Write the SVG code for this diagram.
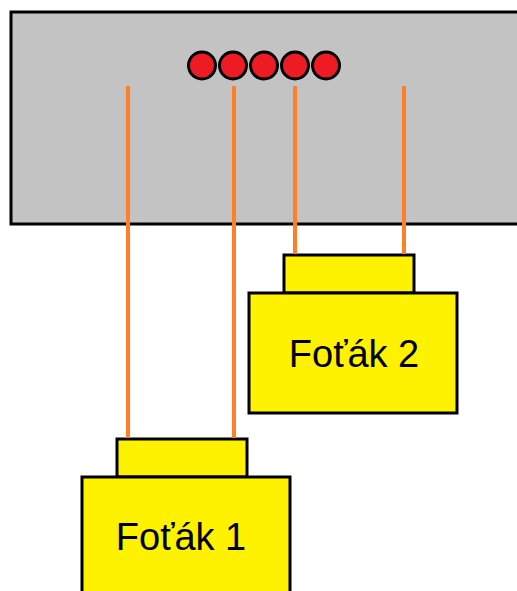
<svg xmlns="http://www.w3.org/2000/svg" width="517" height="591" viewBox="0 0 517 591">
<style>
.box{fill:#c3c3c3;stroke:#000;stroke-width:3}
.led{fill:#ed1c24;stroke:#000;stroke-width:3}
.cam{fill:#fff200;stroke:#000;stroke-width:3}
.wire{stroke:#ff7f27;stroke-width:4;fill:none}
.lbl{font-family:"Liberation Sans",Arial,sans-serif;font-size:38px;fill:#000;text-anchor:middle}
</style>
<rect width="517" height="591" fill="#fff"/>
<g id="panel">
<rect class="box" x="11" y="12" width="510" height="212"/>
<circle class="led" cx="202" cy="65.5" r="13.5"/>
<circle class="led" cx="233" cy="65.5" r="13.5"/>
<circle class="led" cx="264" cy="65.5" r="13.5"/>
<circle class="led" cx="295" cy="65.5" r="13.5"/>
<circle class="led" cx="326" cy="65.5" r="13.5"/>
</g>
<g id="camera2">
<rect class="cam" x="284" y="255" width="130" height="38"/>
<rect class="cam" x="249" y="293" width="208" height="120"/>
<text class="lbl" x="354" y="367">Foťák 2</text>
</g>
<g id="camera1">
<rect class="cam" x="117" y="439" width="130" height="38"/>
<rect class="cam" x="82" y="477" width="208" height="120"/>
<text class="lbl" x="181" y="550">Foťák 1</text>
</g>
<g id="connectors">
<line class="wire" x1="128" y1="86" x2="128" y2="438"/>
<line class="wire" x1="234" y1="86" x2="234" y2="438"/>
<line class="wire" x1="295" y1="86" x2="295" y2="254"/>
<line class="wire" x1="404" y1="86" x2="404" y2="254"/>
</g>
</svg>
